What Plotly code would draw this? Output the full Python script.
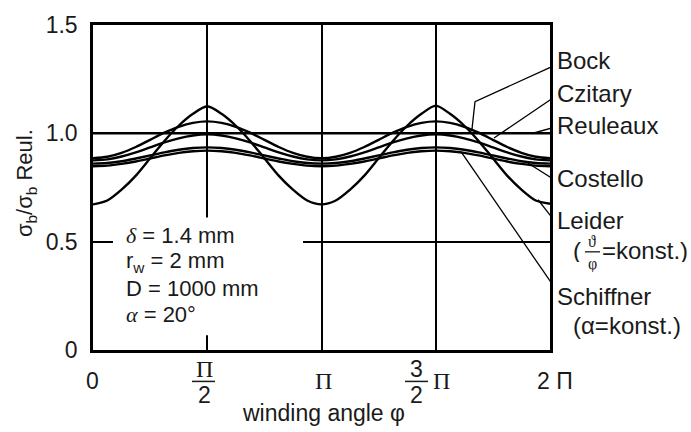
import math
import plotly.graph_objects as go

PI = math.pi

# ---------------- data ----------------
phi = [k * PI / 16 for k in range(33)]

leider = [0.672, 0.69, 0.74, 0.805, 0.885, 0.965, 1.035, 1.09, 1.125,
          1.09, 1.035, 0.965, 0.885, 0.805, 0.74, 0.69, 0.672,
          0.69, 0.74, 0.805, 0.885, 0.965, 1.035, 1.09, 1.128,
          1.09, 1.035, 0.965, 0.885, 0.805, 0.74, 0.69, 0.675]
bock = [0.885, 0.892, 0.91, 0.937, 0.97, 1.003, 1.03, 1.048, 1.055,
        1.048, 1.03, 1.003, 0.97, 0.937, 0.91, 0.892, 0.885,
        0.892, 0.91, 0.937, 0.97, 1.003, 1.03, 1.048, 1.055,
        1.048, 1.03, 1.003, 0.97, 0.937, 0.91, 0.892, 0.885]
czitary = [0.875, 0.88, 0.893, 0.912, 0.935, 0.958, 0.977, 0.99, 0.995,
           0.99, 0.977, 0.958, 0.935, 0.912, 0.893, 0.88, 0.875,
           0.88, 0.893, 0.912, 0.935, 0.958, 0.977, 0.99, 0.995,
           0.99, 0.977, 0.958, 0.935, 0.912, 0.893, 0.88, 0.875]
costello = [0.86, 0.863, 0.871, 0.884, 0.898, 0.912, 0.924, 0.932, 0.935,
            0.932, 0.924, 0.912, 0.898, 0.884, 0.871, 0.863, 0.86,
            0.863, 0.871, 0.884, 0.898, 0.912, 0.924, 0.932, 0.935,
            0.932, 0.924, 0.912, 0.898, 0.884, 0.871, 0.863, 0.86]
schiffner = [0.848, 0.851, 0.859, 0.87, 0.884, 0.898, 0.91, 0.917, 0.92,
             0.917, 0.91, 0.898, 0.884, 0.87, 0.859, 0.851, 0.848,
             0.851, 0.859, 0.87, 0.884, 0.898, 0.91, 0.917, 0.92,
             0.917, 0.91, 0.898, 0.884, 0.87, 0.859, 0.851, 0.848]
reuleaux_phi = [0, 2 * PI]
reuleaux = [1.0, 1.0]

y_tickvals = [0, 0.5, 1.0, 1.5]
y_ticktext = ["0", "0.5", "1.0", "1.5"]

# ---------------- geometry helpers (pixels -> coords) ----------------
W, H = 691, 432
L, R, T, B = 93, 141, 19, 82
PW, PH = W - L - R, H - T - B


def px2x(px):
    return (px - L) / PW * 2 * PI


def py2y(py):
    return (T + PH - py) / PH * 1.5


def px2p(px):
    return (px - L) / PW


def py2p(py):
    return (T + PH - py) / PH


fig = go.Figure()

line_style = dict(color="black", width=2.4)
for name, ys in [("Leider", leider), ("Bock", bock), ("Czitary", czitary),
                 ("Costello", costello), ("Schiffner", schiffner)]:
    fig.add_trace(go.Scatter(x=phi, y=ys, mode="lines", name=name,
                             line=dict(shape="spline", smoothing=0.8, **line_style),
                             showlegend=False, hoverinfo="skip"))
fig.add_trace(go.Scatter(x=reuleaux_phi, y=reuleaux, mode="lines", name="Reuleaux",
                         line=line_style, showlegend=False, hoverinfo="skip"))

# leader lines (label -> curve)
leaders = [
    [(555, 60), (475, 97), (472, 125)],
    [(555, 92), (494, 134)],
    [(555, 123), (532, 129.5)],
    [(555, 177), (527, 159)],
    [(555, 219), (538, 197)],
    [(555, 287), (461, 148)],
]
for pts in leaders:
    fig.add_trace(go.Scatter(x=[px2x(p[0]) for p in pts], y=[py2y(p[1]) for p in pts],
                             mode="lines", line=dict(color="black", width=1.3),
                             cliponaxis=False, showlegend=False, hoverinfo="skip"))

# white box behind the parameter text (interrupts grid lines)
fig.add_shape(type="rect", xref="x", yref="y",
              x0=px2x(113), x1=px2x(303), y0=py2y(335), y1=py2y(215),
              fillcolor="white", line=dict(width=0), layer="above")

sans = "Liberation Sans, Arial, sans-serif"
serif = "Liberation Serif, Times New Roman, serif"
txt_col = "#1a1a1a"

ann = []


def add_text(text, px, py, size=24, xanchor="left", family=sans, height=None):
    a = dict(text=text, x=px2p(px), y=py2p(py), xref="paper", yref="paper",
             xanchor=xanchor, yanchor="middle", showarrow=False, borderpad=0,
             font=dict(family=family, size=size, color=txt_col))
    if height is not None:
        a["height"] = height
    ann.append(a)


# curve labels
add_text("Bock", 556, 55)
add_text("Czitary", 556, 89)
add_text("Reuleaux", 556, 121)
add_text("Costello", 556, 175)
add_text("Leider", 556, 218, height=22)
add_text("(", 572, 248, height=24)
add_text("ϑ", 592, 239, size=16, xanchor="center", family=serif, height=14)
add_text("φ", 592, 262, size=16, xanchor="center", family=serif, height=16)
add_text("=konst.)", 601, 248, height=24)
add_text("Schiffner", 556, 296)
add_text("(α=konst.)", 572, 325)

# parameter block
add_text('<i><span style="font-family:Liberation Serif">δ</span></i> = 1.4 mm', 125, 233, size=22)
add_text("r<sub>w</sub> = 2 mm", 125, 260, size=22)
add_text("D = 1000 mm", 125, 287, size=22)
add_text('<i><span style="font-family:Liberation Serif">α</span></i> = 20°', 125, 314, size=22)

# x tick labels
add_text("0", 92, 382, size=23, xanchor="center")
add_text("Π", 204, 369, size=24, xanchor="center", family=serif, height=22)
add_text("2", 204, 396, size=23, xanchor="center", height=22)
add_text("Π", 323, 382, size=24, xanchor="center", family=serif)
add_text("3", 416, 369, size=23, xanchor="center", height=22)
add_text("2", 416, 396, size=23, xanchor="center", height=22)
add_text("Π", 441, 382, size=24, xanchor="center", family=serif)
add_text("2 Π", 555, 382, size=23, xanchor="center")

# axis titles
add_text("winding angle φ", 323, 414, size=23, xanchor="center")
ann.append(dict(text="σ<sub>b</sub>/σ<sub>b</sub> Reul.", x=px2p(26), y=py2p(180),
                xref="paper", yref="paper", xanchor="center", yanchor="middle",
                textangle=-90, showarrow=False,
                font=dict(family=sans, size=22, color=txt_col)))

# fraction bars
for x0, x1, y in [(192, 215, 382), (405, 428, 382)]:
    fig.add_shape(type="line", xref="paper", yref="paper",
                  x0=px2p(x0), x1=px2p(x1), y0=py2p(y), y1=py2p(y),
                  line=dict(color=txt_col, width=1.5))
fig.add_shape(type="line", xref="paper", yref="paper",
              x0=px2p(585), x1=px2p(600), y0=py2p(250), y1=py2p(250),
              line=dict(color=txt_col, width=1.3))

fig.update_layout(
    width=W, height=H,
    margin=dict(l=L, r=R, t=T, b=B),
    paper_bgcolor="white", plot_bgcolor="white",
    annotations=ann,
    xaxis=dict(range=[0, 2 * PI], tickvals=[PI / 2, PI, 3 * PI / 2], showticklabels=False,
               showgrid=True, gridcolor="black", gridwidth=1.6, zeroline=False,
               showline=True, linecolor="black", linewidth=2.5, mirror=True, ticks=""),
    yaxis=dict(range=[0, 1.5], tickvals=y_tickvals, ticktext=y_ticktext,
               showgrid=True, gridcolor="black", gridwidth=1.6, zeroline=False,
               showline=True, linecolor="black", linewidth=2.5, mirror=True, ticks="",
               ticklabelstandoff=8,
               tickfont=dict(family=sans, size=23, color=txt_col)),
)

fig.write_html("out.html")
